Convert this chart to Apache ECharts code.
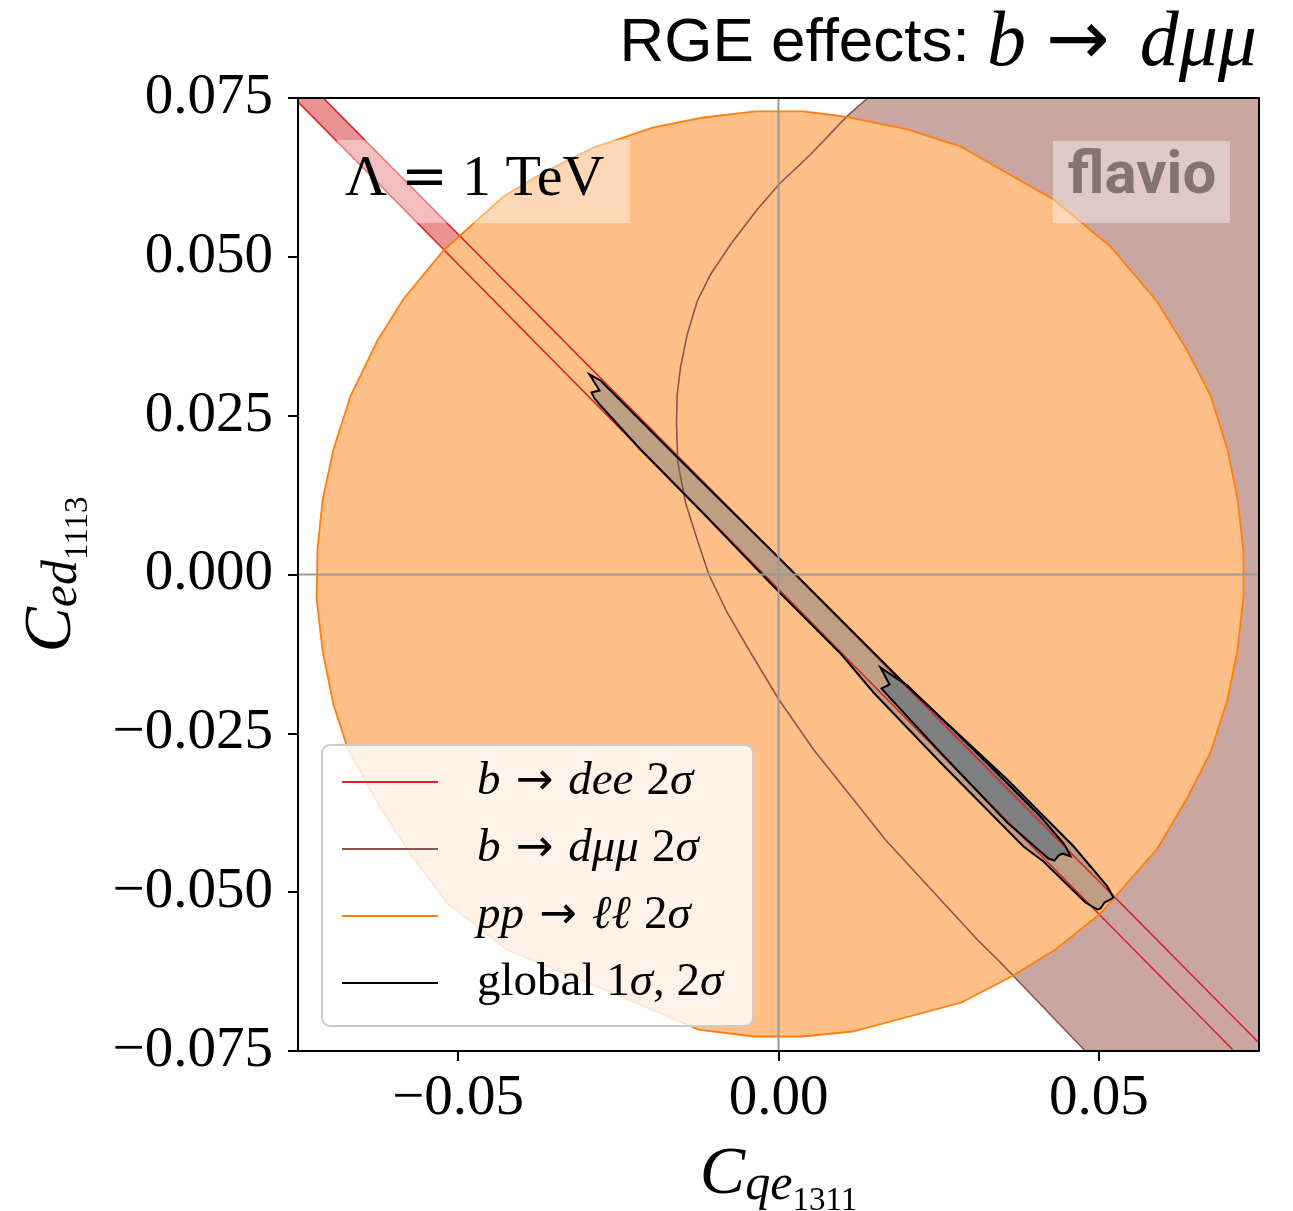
<!DOCTYPE html>
<html><head><meta charset="utf-8">
<script src="https://cdn.jsdelivr.net/npm/echarts@6/dist/echarts.min.js"></script>
<style>html,body{margin:0;padding:0;background:#fff}#c{width:1293px;height:1211px}</style>
</head><body><div id="c"></div>
<script>
// ---------------- data ----------------
const xRange = [-0.075, 0.075];
const yRange = [-0.075, 0.075];
const xTicks = [-0.05, 0, 0.05];
const xTickLabels = ['−0.05', '0.00', '0.05'];
const yTicks = [-0.075, -0.05, -0.025, 0, 0.025, 0.05, 0.075];
const yTickLabels = ['−0.075', '−0.050', '−0.025', '0.000', '0.025', '0.050', '0.075'];
const seriesKeys = ['dee', 'dmumu', 'pp', 'global'];

// b -> dee 2 sigma band (upper line, then lower line)
const deeBand = [[-0.08, 0.0841], [0.08, -0.0788], [0.08, -0.0841], [-0.08, 0.0795]];

// b -> d mu mu 2 sigma boundary curve (top to bottom) plus closing corners on the right
const dmumuRegion = [
  [0.0170, 0.0779], [0.01384, 0.07493], [0.01072, 0.07214], [0.00499, 0.06611], [0.00016, 0.0615],
  [-0.00332, 0.05745], [-0.00749, 0.05194], [-0.01061, 0.04722], [-0.01269, 0.04302], [-0.01425, 0.03778],
  [-0.0153, 0.03258], [-0.01581, 0.02833], [-0.01592, 0.02393], [-0.01572, 0.01763], [-0.01452, 0.01133],
  [-0.01269, 0.00551], [-0.01088, 0.0], [-0.00801, -0.00598], [-0.00437, -0.01228], [0.00005, -0.01968],
  [0.00546, -0.02755], [0.01171, -0.03542], [0.01665, -0.04171], [0.03101, -0.05745], [0.03465, -0.06107],
  [0.04792, -0.07503], [0.05213, -0.07949], [0.09, -0.0795], [0.09, 0.0779]
];

// pp -> ll 2 sigma contour
const ppContour = [
  [0.07258, -0.00346], [0.07258, 0.00354], [0.07164, 0.01196], [0.07008, 0.01968], [0.06743, 0.02818],
  [0.06384, 0.03516], [0.05915, 0.04289], [0.05182, 0.05163], [0.04292, 0.05903], [0.02841, 0.06737],
  [0.02013, 0.07005], [0.01015, 0.07209], [0.0039, 0.07288], [-0.00359, 0.07288], [-0.01171, 0.07193],
  [-0.01951, 0.07036], [-0.02887, 0.06721], [-0.03668, 0.06328], [-0.04292, 0.0595], [-0.05229, 0.051],
  [-0.05853, 0.04337], [-0.06259, 0.03683], [-0.0668, 0.02808], [-0.06946, 0.01968], [-0.07117, 0.01165],
  [-0.07195, 0.00401], [-0.07211, -0.00362], [-0.07117, -0.01196], [-0.06946, -0.02046], [-0.06727, -0.02731],
  [-0.06243, -0.0362], [-0.05791, -0.04329], [-0.05182, -0.05163], [-0.04245, -0.05903], [-0.0245, -0.06643],
  [-0.01249, -0.07162], [-0.0039, -0.07272], [0.00375, -0.07272], [0.01155, -0.07193], [0.02856, -0.06737],
  [0.03637, -0.06328], [0.04323, -0.05903], [0.0501, -0.05352], [0.05915, -0.04313], [0.06384, -0.0351],
  [0.06743, -0.02802], [0.07008, -0.01968], [0.07164, -0.01196]
];

// global fit 2 sigma and 1 sigma contours
const global2s = [
  [-0.0295, 0.03148], [-0.02778, 0.03054], [-0.02154, 0.02424], [-0.01217, 0.0148], [0.0, 0.00268],
  [0.0128, -0.01023], [0.02009, -0.01758], [0.0357, -0.03227], [0.04604, -0.04277], [0.0513, -0.04906],
  [0.05229, -0.05084], [0.05151, -0.05131], [0.05088, -0.05163], [0.05026, -0.05257], [0.04979, -0.05273],
  [0.04792, -0.05163], [0.04136, -0.04518], [0.03824, -0.04282], [0.02528, -0.02959], [0.01483, -0.01857],
  [0.00968, -0.01243], [0.0, -0.00268], [-0.01217, 0.01007], [-0.02154, 0.01968], [-0.02778, 0.0266],
  [-0.02872, 0.0277], [-0.02919, 0.02865], [-0.02794, 0.02896]
];
const global1s = [
  [0.01592, -0.01465], [0.02009, -0.01745], [0.03044, -0.02755], [0.04089, -0.03809], [0.04464, -0.04250],
  [0.04558, -0.04434], [0.04433, -0.04392], [0.0437, -0.04423], [0.04308, -0.04502], [0.04214, -0.04470],
  [0.0357, -0.03903], [0.02528, -0.02801], [0.01748, -0.0195], [0.01608, -0.01795], [0.01733, -0.01731]
];

// ---------------- styles ----------------
const C = {
  red: '#d62728', redFill: 'rgba(214,39,40,0.5)',
  brown: '#8c564b', brownFill: '#c9a6a0',
  orange: '#ff7f0e', orangeFill: '#ffbf87',
  black: '#000000', g2Fill: 'rgba(128,128,128,0.5)', g1Fill: '#808080'
};
const SERIF = '"Liberation Serif", "DejaVu Serif", serif';
const SANS = '"Liberation Sans", Arial, sans-serif';
const ARROW = '"DejaVu Sans", sans-serif';

function polySeries(name, pts, z, style, color, extra) {
  return {
    type: 'custom', name: name, coordinateSystem: 'cartesian2d', clip: true, z: z, silent: true,
    data: pts, encode: { x: 0, y: 1 },
    itemStyle: { color: color },
    renderItem: function (params, api) {
      if (params.dataIndex !== 0) return null;
      const children = [{ type: 'polygon', shape: { points: pts.map(p => api.coord(p)) }, style: style }];
      if (extra) children.push({ type: 'polygon', shape: { points: extra.pts.map(p => api.coord(p)) }, style: extra.style });
      return { type: 'group', children: children };
    }
  };
}

const axLines = {
  type: 'custom', name: 'axlines', coordinateSystem: 'cartesian2d', clip: true, z: 20, silent: true,
  data: [[0, 0]], encode: { x: 0, y: 1 },
  renderItem: function (params, api) {
    const a = api.coord([0, yRange[0]]), b = api.coord([0, yRange[1]]);
    const c = api.coord([xRange[0], 0]), d = api.coord([xRange[1], 0]);
    const st = { stroke: '#999999', lineWidth: 2 };
    return { type: 'group', children: [
      { type: 'line', shape: { x1: a[0], y1: a[1], x2: b[0], y2: b[1] }, style: st },
      { type: 'line', shape: { x1: c[0], y1: c[1], x2: d[0], y2: d[1] }, style: st }
    ] };
  }
};

const series = [
  polySeries('dee-fill', deeBand, 1, { fill: C.redFill, stroke: null }, C.red),
  polySeries('dmumu-fill', dmumuRegion, 2, { fill: C.brownFill, stroke: null }, C.brown),
  polySeries('pp-fill', ppContour, 3, { fill: C.orangeFill, stroke: null }, C.orange),
  polySeries('global-fill', global2s, 4, { fill: C.g2Fill, stroke: null }, C.black,
    { pts: global1s, style: { fill: C.g1Fill, stroke: null } }),
  polySeries('dee', deeBand, 10, { fill: 'none', stroke: C.red, lineWidth: 1.6 }, C.red),
  polySeries('dmumu', dmumuRegion, 11, { fill: 'none', stroke: C.brown, lineWidth: 1.6 }, C.brown),
  polySeries('pp', ppContour, 12, { fill: 'none', stroke: C.orange, lineWidth: 1.8 }, C.orange),
  polySeries('global', global2s, 13, { fill: 'none', stroke: C.black, lineWidth: 2 }, C.black,
    { pts: global1s, style: { fill: 'none', stroke: C.black, lineWidth: 2 } }),
  axLines
];

const legendText = {
  dee: '{i|b}{a|→}{i|dee} {r|2}{i|σ}',
  dmumu: '{i|b}{a|→}{i|dμμ} {r|2}{i|σ}',
  pp: '{i|pp}{a|→}{i|ℓℓ} {r|2}{i|σ}',
  global: '{r|global 1}{i|σ}{r|, 2}{i|σ}'
};

const tickLabelStyle = { fontFamily: SERIF, fontSize: 57, color: '#000' };
const axisBase = {
  type: 'value', z: 30, scale: false,
  splitLine: { show: false },
  axisLine: { show: true, onZero: false, lineStyle: { color: '#000', width: 2 } }
};
const nameRich = {
  c: { fontFamily: SERIF, fontStyle: 'italic', fontSize: 68, lineHeight: 90, color: '#000' },
  s: { fontFamily: SERIF, fontStyle: 'italic', fontSize: 50, lineHeight: 50, padding: [21, 0, 0, 0], color: '#000' },
  ss: { fontFamily: SERIF, fontSize: 33, lineHeight: 33, padding: [52, 0, 0, 0], color: '#000' }
};

const option = {
  animation: false,
  backgroundColor: '#ffffff',
  grid: { left: 298, top: 98, width: 961, height: 953, containLabel: false, outerBoundsMode: 'none' },
  xAxis: [
    Object.assign({}, axisBase, {
      min: xRange[0], max: xRange[1], position: 'bottom',
      axisTick: { show: true, length: 10, lineStyle: { color: '#000', width: 2 }, customValues: xTicks },
      axisLabel: Object.assign({ margin: 20, customValues: xTicks,
        formatter: v => xTickLabels[xTicks.findIndex(t => Math.abs(t - v) < 1e-9)] }, tickLabelStyle),
      name: '{c|C}{s|qe}{ss|1311}', nameLocation: 'middle', nameGap: 71,
      nameTextStyle: { rich: nameRich }
    }),
    Object.assign({}, axisBase, {
      min: xRange[0], max: xRange[1], position: 'top',
      axisTick: { show: false }, axisLabel: { show: false }
    })
  ],
  yAxis: [
    Object.assign({}, axisBase, {
      min: yRange[0], max: yRange[1], position: 'left',
      axisTick: { show: true, length: 10, lineStyle: { color: '#000', width: 2 }, customValues: yTicks },
      axisLabel: Object.assign({ margin: 25, customValues: yTicks,
        formatter: v => yTickLabels[yTicks.findIndex(t => Math.abs(t - v) < 1e-9)] }, tickLabelStyle),
      name: '{c|C}{s|ed}{ss|1113}', nameLocation: 'middle', nameGap: 201,
      nameTextStyle: { rich: nameRich }
    }),
    Object.assign({}, axisBase, {
      min: yRange[0], max: yRange[1], position: 'right',
      axisTick: { show: false }, axisLabel: { show: false }
    })
  ],
  legend: {
    data: seriesKeys, orient: 'vertical', left: 322, top: 745, z: 40,
    icon: 'rect', itemWidth: 96, itemHeight: 2, itemGap: 17,
    backgroundColor: 'rgba(255,255,255,0.8)', borderColor: '#cccccc', borderWidth: 2, borderRadius: 8,
    padding: [12, 30, 18, 20], selectedMode: false,
    formatter: n => legendText[n],
    textStyle: {
      padding: [0, 0, 0, 34], fontSize: 47, lineHeight: 50, color: '#000',
      rich: {
        i: { fontFamily: SERIF, fontStyle: 'italic', fontSize: 47, lineHeight: 50, color: '#000' },
        r: { fontFamily: SERIF, fontSize: 47, lineHeight: 50, color: '#000' },
        a: { fontFamily: ARROW, fontSize: 45, lineHeight: 50, color: '#000', padding: [0, 15, 0, 15] }
      }
    }
  },
  graphic: [
    { type: 'rect', z: 100, shape: { x: 337, y: 140, width: 293, height: 83 }, style: { fill: 'rgba(255,255,255,0.4)' } },
    { type: 'text', z: 101, style: {
      x: 345, y: 180, textVerticalAlign: 'middle',
      text: '{r|Λ}{e|=}{r|1 TeV}',
      rich: {
        r: { fontFamily: SERIF, fontSize: 58, color: '#000' },
        e: { fontFamily: '"DejaVu Serif", serif', fontSize: 56, color: '#000', padding: [0, 14, 0, 14] }
      }
    } },
    { type: 'rect', z: 100, shape: { x: 1053, y: 141, width: 177, height: 82 }, style: { fill: 'rgba(255,255,255,0.4)' } },
    { type: 'text', z: 101, style: { x: 1142, y: 178, text: 'flavio', font: 'bold 60px Roboto, "Open Sans", sans-serif', fill: '#837371', textAlign: 'center', textVerticalAlign: 'middle' } },
    { type: 'text', z: 101, style: {
      x: 1257, y: 44, textAlign: 'right', textVerticalAlign: 'middle',
      text: '{s|RGE effects: }{i|b}{a|→}{i|dμμ}',
      rich: {
        s: { fontFamily: SANS, fontSize: 62, color: '#000' },
        i: { fontFamily: SERIF, fontStyle: 'italic', fontSize: 78, color: '#000' },
        a: { fontFamily: ARROW, fontSize: 76, color: '#000', padding: [0, 30, 0, 20] }
      }
    } }
  ],
  series: series
};

const chart = echarts.init(document.getElementById('c'), null, { renderer: 'canvas' });
chart.setOption(option);
</script>
</body></html>
